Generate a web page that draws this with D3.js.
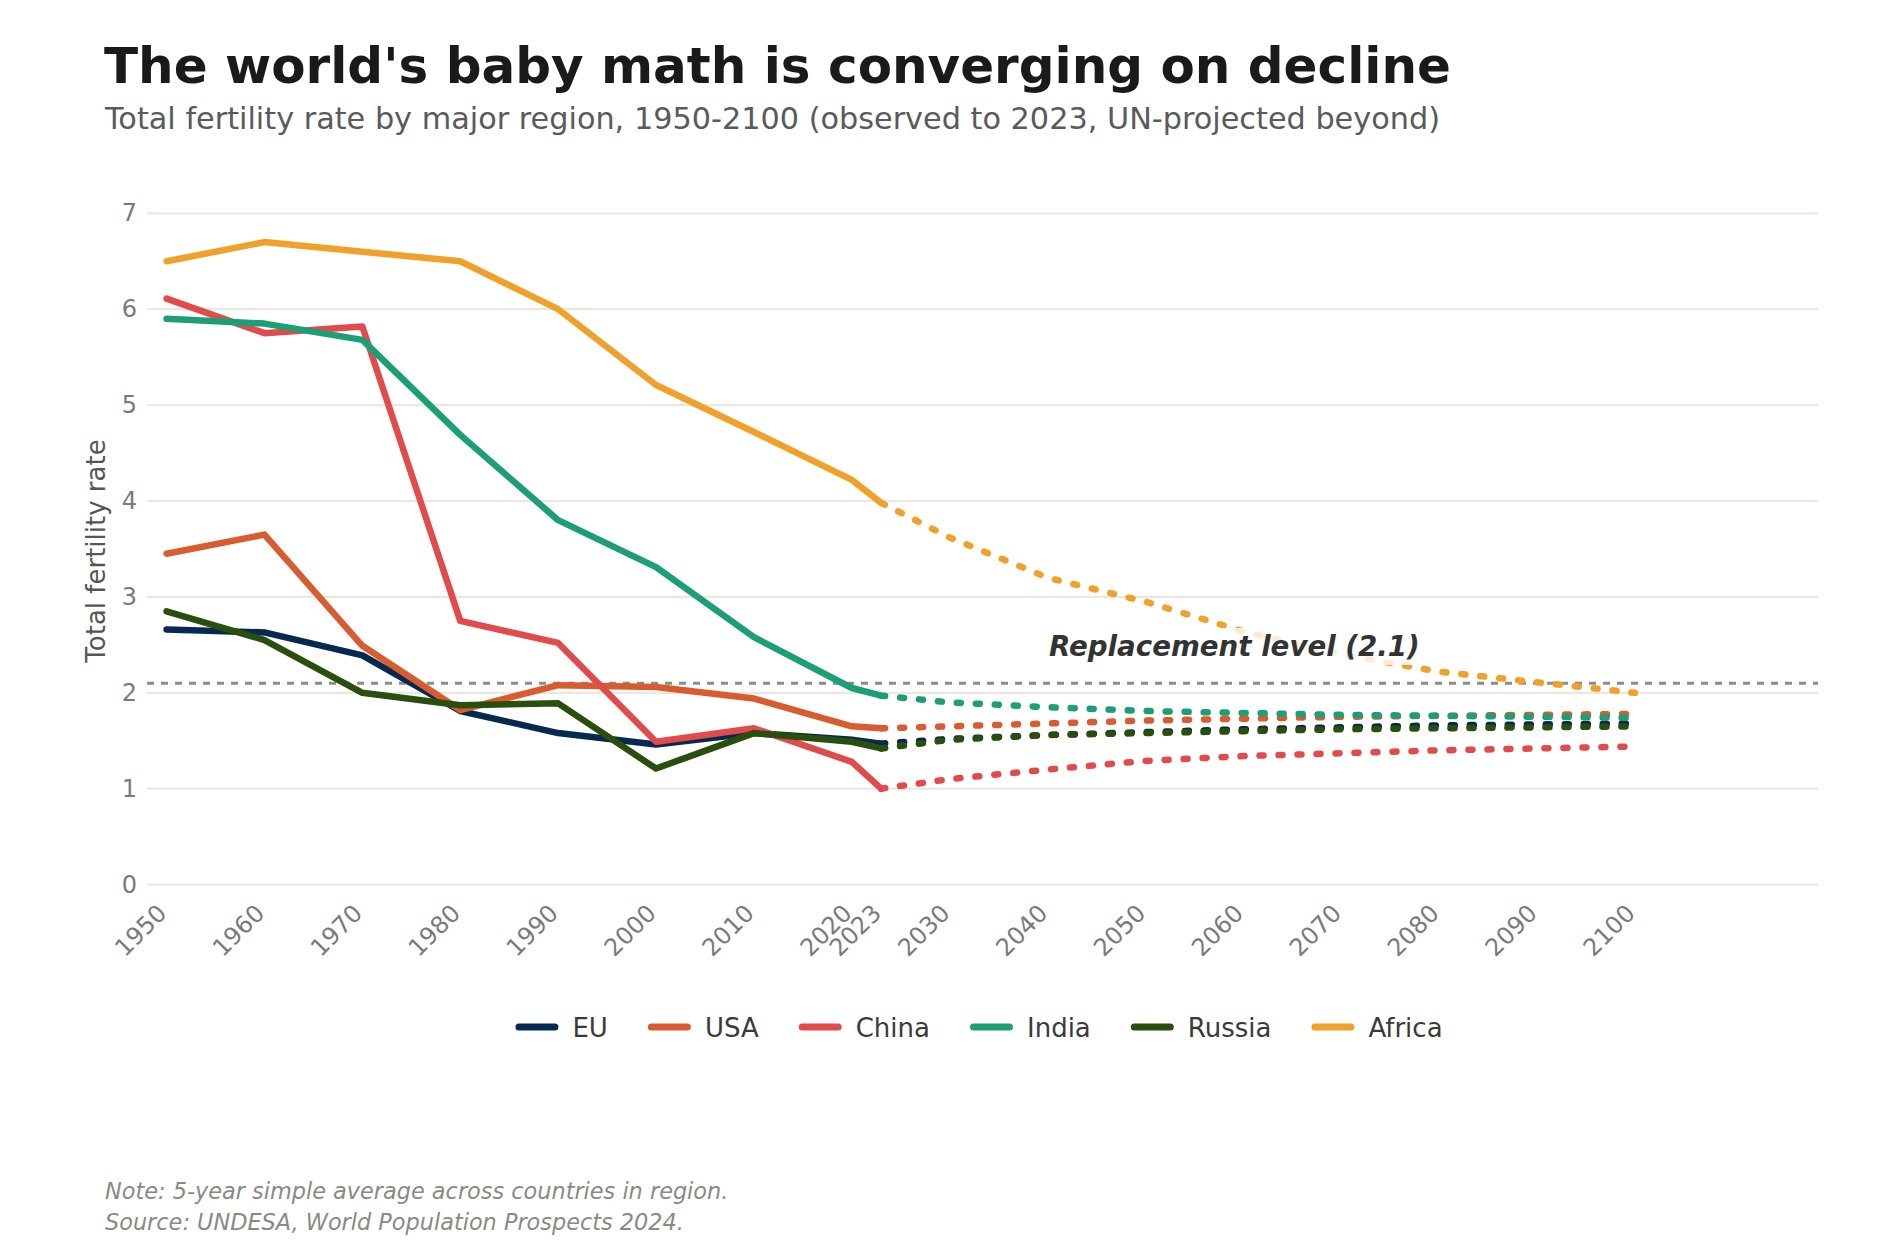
<!DOCTYPE html>
<html>
<head>
<meta charset="utf-8">
<script src="https://cdn.jsdelivr.net/npm/d3@7"></script>
<style>
  html, body { margin: 0; padding: 0; background: #ffffff; }
  svg { display: block; font-family: "DejaVu Sans", sans-serif; }
</style>
</head>
<body>
<svg id="chart" width="1900" height="1254"></svg>
<script>
// ---------- data ----------
const obsYears  = [1950, 1960, 1970, 1980, 1990, 2000, 2010, 2020, 2023];
const projYears = [2023, 2030, 2040, 2050, 2060, 2070, 2080, 2090, 2100];
const xTickYears = [1950, 1960, 1970, 1980, 1990, 2000, 2010, 2020, 2023, 2030, 2040, 2050, 2060, 2070, 2080, 2090, 2100];
const yTickValues = [0, 1, 2, 3, 4, 5, 6, 7];
const seriesNames = ["EU", "USA", "China", "India", "Russia", "Africa"];
const seriesColors = ["#062a4f", "#d95b30", "#e24b4c", "#1c9e77", "#2a4e0c", "#f0a129"];

const euObs     = [2.66, 2.63, 2.39, 1.81, 1.58, 1.46, 1.58, 1.51, 1.47];
const usaObs    = [3.45, 3.65, 2.49, 1.82, 2.08, 2.06, 1.94, 1.65, 1.63];
const chinaObs  = [6.11, 5.75, 5.82, 2.75, 2.52, 1.49, 1.63, 1.28, 1.00];
const indiaObs  = [5.90, 5.85, 5.68, 4.69, 3.80, 3.31, 2.58, 2.05, 1.97];
const russiaObs = [2.85, 2.55, 2.00, 1.87, 1.89, 1.21, 1.58, 1.49, 1.42];
const africaObs = [6.50, 6.70, 6.60, 6.50, 6.00, 5.21, 4.72, 4.22, 3.98];

const euProj     = [1.47, 1.52, 1.56, 1.59, 1.62, 1.64, 1.66, 1.67, 1.68];
const usaProj    = [1.63, 1.65, 1.68, 1.71, 1.73, 1.75, 1.76, 1.77, 1.78];
const chinaProj  = [1.00, 1.10, 1.20, 1.29, 1.34, 1.37, 1.40, 1.42, 1.44];
const indiaProj  = [1.97, 1.90, 1.85, 1.81, 1.79, 1.77, 1.76, 1.75, 1.74];
const russiaProj = [1.42, 1.51, 1.56, 1.58, 1.60, 1.62, 1.63, 1.64, 1.65];
const africaProj = [3.98, 3.62, 3.20, 2.95, 2.64, 2.40, 2.22, 2.11, 2.00];

const replacementLevel = 2.1;

const titleText = "The world's baby math is converging on decline";
const subtitleText = "Total fertility rate by major region, 1950-2100 (observed to 2023, UN-projected beyond)";
const yAxisLabel = "Total fertility rate";
const replacementLabel = "Replacement level (2.1)";
const noteLines = ["Note: 5-year simple average across countries in region.",
                   "Source: UNDESA, World Population Prospects 2024."];

const observed = [euObs, usaObs, chinaObs, indiaObs, russiaObs, africaObs];
const projected = [euProj, usaProj, chinaProj, indiaProj, russiaProj, africaProj];

// ---------- layout ----------
const svg = d3.select("#chart");
const plotLeft = 147, plotRight = 1818;
const x = d3.scaleLinear().domain([1948, 2118.7]).range([plotLeft, plotRight]);
const y = d3.scaleLinear().domain([0, 7]).range([884.6, 213.3]);

svg.append("rect").attr("width", 1900).attr("height", 1254).attr("fill", "#ffffff");

// title & subtitle
svg.append("text").attr("x", 104).attr("y", 83)
  .attr("font-size", 50).attr("font-weight", "bold").attr("fill", "#1a1a1a")
  .text(titleText);
svg.append("text").attr("x", 105).attr("y", 129)
  .attr("font-size", 30.3).attr("fill", "#5a5a5a")
  .text(subtitleText);

// gridlines
const grid = svg.append("g");
grid.selectAll("line").data(yTickValues).join("line")
  .attr("x1", plotLeft).attr("x2", plotRight)
  .attr("y1", d => y(d)).attr("y2", d => y(d))
  .attr("stroke", "#ebe8df").attr("stroke-width", 2.2);

// y axis (labels only)
const yAxis = d3.axisLeft(y).tickValues(yTickValues).tickSize(0).tickPadding(10).tickFormat(d3.format("d"));
const yg = svg.append("g").attr("transform", `translate(${plotLeft},0)`).call(yAxis);
yg.select(".domain").remove();
yg.selectAll("text").attr("font-size", 24).attr("fill", "#7a7a7a")
  .attr("font-family", "DejaVu Sans").attr("x", 137 - plotLeft);

// x axis (rotated labels)
const xAxis = d3.axisBottom(x).tickValues(xTickYears).tickSize(0).tickFormat(d3.format("d"));
const xg = svg.append("g").attr("transform", `translate(0,${y(0)})`).call(xAxis);
xg.select(".domain").remove();
xg.selectAll("text")
  .attr("font-size", 24).attr("fill", "#7a7a7a").attr("font-family", "DejaVu Sans")
  .attr("text-anchor", "end").attr("dy", null).attr("y", null)
  .attr("transform", "translate(1,30) rotate(-45)");

// y axis label
svg.append("text")
  .attr("transform", "translate(105,551) rotate(-90)")
  .attr("text-anchor", "middle").attr("font-size", 26).attr("fill", "#555555")
  .text(yAxisLabel);

// replacement line
svg.append("line")
  .attr("x1", plotLeft).attr("x2", plotRight)
  .attr("y1", y(replacementLevel)).attr("y2", y(replacementLevel))
  .attr("stroke", "#8c8c88").attr("stroke-width", 3).attr("stroke-dasharray", "7,7");

// series
const line = d3.line().x(d => x(d[0])).y(d => y(d[1]));
const seriesG = svg.append("g");
seriesNames.forEach((name, i) => {
  const obsPts = obsYears.map((yr, j) => [yr, observed[i][j]]);
  const projPts = projYears.map((yr, j) => [yr, projected[i][j]]);
  seriesG.append("path").attr("d", line(obsPts))
    .attr("fill", "none").attr("stroke", seriesColors[i]).attr("stroke-width", 6.5)
    .attr("stroke-linejoin", "round").attr("stroke-linecap", "round");
  seriesG.append("path").attr("d", line(projPts))
    .attr("fill", "none").attr("stroke", seriesColors[i]).attr("stroke-width", 6.5)
    .attr("stroke-dasharray", "4,15").attr("stroke-linecap", "round");
});

// replacement label with translucent box
const labG = svg.append("g");
const lab = labG.append("text").attr("x", x(2060) - 9).attr("y", 656)
  .attr("text-anchor", "middle").attr("font-size", 27.7)
  .attr("font-weight", "bold").attr("font-style", "italic").attr("fill", "#333333")
  .text(replacementLabel);
const bb = lab.node().getBBox();
labG.insert("rect", "text")
  .attr("x", bb.x - 4).attr("y", bb.y - 2).attr("width", bb.width + 8).attr("height", bb.height + 4)
  .attr("fill", "#ffffff").attr("fill-opacity", 0.8);

// legend
const legG = svg.append("g");
const handleLen = 43, handleGap = 14, itemGap = 40, legY = 1027;
const items = seriesNames.map((name, i) => {
  const g = legG.append("g");
  g.append("line").attr("x1", 3.5).attr("x2", handleLen - 3.5).attr("y1", legY).attr("y2", legY)
    .attr("stroke", seriesColors[i]).attr("stroke-width", 7).attr("stroke-linecap", "round");
  const t = g.append("text").attr("x", handleLen + handleGap).attr("y", legY + 10)
    .attr("font-size", 26).attr("fill", "#3a3a3a").text(name);
  return { g, w: handleLen + handleGap + t.node().getComputedTextLength() };
});
const totalW = d3.sum(items, d => d.w) + itemGap * (items.length - 1);
let cx = 979 - totalW / 2;
items.forEach(it => { it.g.attr("transform", `translate(${cx},0)`); cx += it.w + itemGap; });

// notes
svg.selectAll(".note").data(noteLines).join("text").attr("class", "note")
  .attr("x", 105).attr("y", (d, i) => 1199 + i * 31)
  .attr("font-size", 22.4).attr("font-style", "italic").attr("fill", "#8a8a82")
  .text(d => d);
</script>
</body>
</html>
